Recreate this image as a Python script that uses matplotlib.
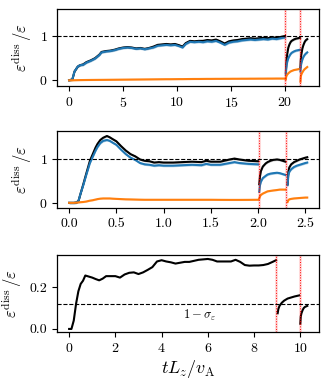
import matplotlib
matplotlib.use("Agg")
import matplotlib.pyplot as plt
import numpy as np

plt.rcParams['font.family'] = 'serif'
plt.rcParams['font.serif'] = ['cmr10']
plt.rcParams['mathtext.fontset'] = 'cm'
plt.rcParams['axes.formatter.use_mathtext'] = True
plt.rcParams['axes.unicode_minus'] = True

C_BLUE = '#1f77b4'
C_ORANGE = '#ff7f0e'

# ---------------- Panel 1 data ----------------
p1_t_a = [0, 0.3, 0.5, 0.8, 1.0, 1.3, 1.6, 2.0, 2.4, 2.8, 3.0, 3.4, 3.8, 4.2, 4.6, 5.0, 5.4, 5.8, 6.2, 6.6,
          7.0, 7.4, 7.8, 8.2, 8.6, 9.0, 9.4, 9.8, 10.2, 10.5, 10.8, 11.2, 11.6, 12.0, 12.4, 12.8, 13.2, 13.6, 14.0, 14.4,
          14.8, 15.2, 15.6, 16.0, 16.4, 16.8, 17.2, 17.6, 18.0, 18.4, 18.8, 19.2, 19.6, 20.0]
p1_blue_a = [0, 0.02, 0.2, 0.31, 0.34, 0.35, 0.40, 0.44, 0.49, 0.57, 0.63, 0.65, 0.66, 0.68, 0.71, 0.73, 0.74, 0.73, 0.71, 0.72,
             0.70, 0.72, 0.74, 0.78, 0.79, 0.80, 0.79, 0.80, 0.77, 0.74, 0.82, 0.87, 0.86, 0.87, 0.86, 0.88, 0.87, 0.89, 0.85, 0.80,
             0.85, 0.87, 0.88, 0.90, 0.91, 0.92, 0.91, 0.92, 0.93, 0.92, 0.94, 0.93, 0.95, 0.97]
p1_black_a = [0, 0.02, 0.2, 0.31, 0.34, 0.36, 0.41, 0.45, 0.50, 0.58, 0.64, 0.66, 0.67, 0.69, 0.72, 0.74, 0.75, 0.74, 0.72, 0.73,
              0.71, 0.73, 0.76, 0.80, 0.81, 0.82, 0.81, 0.82, 0.79, 0.76, 0.84, 0.89, 0.88, 0.89, 0.89, 0.91, 0.90, 0.92, 0.88, 0.83,
              0.88, 0.90, 0.91, 0.93, 0.94, 0.95, 0.94, 0.95, 0.96, 0.95, 0.97, 0.96, 0.98, 1.00]
p1_orange_a = [0, 0.0, 0.002, 0.004, 0.005, 0.006, 0.007, 0.008, 0.009, 0.01, 0.01, 0.011, 0.012, 0.013, 0.014, 0.015, 0.016, 0.017, 0.018, 0.019,
               0.02, 0.021, 0.022, 0.023, 0.024, 0.025, 0.025, 0.026, 0.027, 0.027, 0.028, 0.029, 0.03, 0.03, 0.031, 0.032, 0.032, 0.033, 0.033, 0.034,
               0.034, 0.035, 0.035, 0.036, 0.036, 0.037, 0.037, 0.038, 0.038, 0.039, 0.039, 0.04, 0.04, 0.04]
p1_t_b = [20.07, 20.1, 20.15, 20.2, 20.3, 20.4, 20.5, 20.6, 20.8, 21.0, 21.2, 21.38]
p1_black_b = [0.17, 0.35, 0.5, 0.6, 0.74, 0.81, 0.86, 0.89, 0.92, 0.94, 0.95, 0.96]
p1_blue_b = [0.12, 0.25, 0.35, 0.42, 0.5, 0.55, 0.59, 0.62, 0.65, 0.67, 0.68, 0.69]
p1_orange_b = [0.02, 0.08, 0.11, 0.13, 0.16, 0.18, 0.2, 0.21, 0.23, 0.24, 0.25, 0.26]
p1_t_c = [21.42, 21.45, 21.5, 21.6, 21.7, 21.8, 21.9, 22.05]
p1_black_c = [0.3, 0.45, 0.58, 0.72, 0.8, 0.86, 0.9, 0.93]
p1_blue_c = [0.2, 0.3, 0.38, 0.47, 0.53, 0.57, 0.6, 0.63]
p1_orange_c = [-0.03, 0.08, 0.13, 0.18, 0.22, 0.25, 0.27, 0.3]
p1_restarts = [20.03, 21.4]
p1_ticks = [0, 5, 10, 15, 20]

# ---------------- Panel 2 data ----------------
p2_t_a = [0, 0.05, 0.08, 0.1, 0.12, 0.15, 0.18, 0.2, 0.22, 0.25, 0.28, 0.3, 0.33, 0.36, 0.4, 0.43, 0.46, 0.5, 0.55, 0.6,
          0.65, 0.7, 0.75, 0.8, 0.85, 0.9, 0.95, 1.0, 1.1, 1.2, 1.3, 1.4, 1.45, 1.5, 1.6, 1.7, 1.75, 1.8, 1.9, 2.0]
p2_black_a = [0, 0, 0.01, 0.05, 0.2, 0.42, 0.65, 0.8, 0.95, 1.1, 1.25, 1.33, 1.42, 1.47, 1.51, 1.48, 1.44, 1.39, 1.28, 1.18,
              1.1, 1.05, 0.98, 0.95, 0.94, 0.91, 0.92, 0.91, 0.91, 0.92, 0.93, 0.92, 0.95, 0.93, 0.93, 0.98, 1.0, 0.98, 0.95, 0.94]
p2_blue_a = [0, 0, 0.01, 0.05, 0.2, 0.4, 0.62, 0.76, 0.9, 1.04, 1.18, 1.26, 1.35, 1.40, 1.42, 1.40, 1.36, 1.31, 1.2, 1.1,
             1.02, 0.97, 0.9, 0.87, 0.86, 0.84, 0.85, 0.84, 0.84, 0.85, 0.86, 0.85, 0.88, 0.86, 0.86, 0.9, 0.92, 0.9, 0.88, 0.87]
p2_orange_a = [0, 0, 0.005, 0.01, 0.015, 0.02, 0.03, 0.04, 0.05, 0.06, 0.075, 0.085, 0.095, 0.1, 0.1, 0.1, 0.095, 0.09, 0.085, 0.08,
               0.078, 0.075, 0.072, 0.07, 0.07, 0.07, 0.07, 0.07, 0.07, 0.07, 0.07, 0.07, 0.07, 0.07, 0.068, 0.067, 0.067, 0.067, 0.068, 0.07]
p2_t_b = [2.012, 2.02, 2.03, 2.05, 2.08, 2.1, 2.13, 2.16, 2.2, 2.23, 2.26, 2.29]
p2_black_b = [0.42, 0.6, 0.72, 0.82, 0.89, 0.92, 0.95, 0.97, 0.98, 0.97, 0.95, 0.93]
p2_blue_b = [0.25, 0.4, 0.48, 0.56, 0.61, 0.64, 0.66, 0.67, 0.68, 0.67, 0.65, 0.63]
p2_orange_b = [0.1, 0.15, 0.18, 0.21, 0.24, 0.26, 0.27, 0.28, 0.29, 0.3, 0.3, 0.3]
p2_t_c = [2.312, 2.32, 2.33, 2.35, 2.38, 2.41, 2.44, 2.47, 2.5, 2.52]
p2_black_c = [0.42, 0.7, 0.8, 0.87, 0.92, 0.95, 0.98, 1.0, 1.02, 1.03]
p2_blue_c = [0.4, 0.62, 0.7, 0.76, 0.81, 0.84, 0.86, 0.88, 0.9, 0.91]
p2_orange_c = [0.02, 0.06, 0.08, 0.09, 0.1, 0.105, 0.11, 0.115, 0.12, 0.12]
p2_restarts = [2.005, 2.3]
p2_ticks = [0.0, 0.5, 1.0, 1.5, 2.0, 2.5]

# ---------------- Panel 3 data ----------------
p3_t_a = [0, 0.1, 0.2, 0.3, 0.4, 0.5, 0.6, 0.7, 0.85, 1.0, 1.15, 1.3, 1.45, 1.6,
          1.8, 2.0, 2.2, 2.4, 2.6, 2.8, 3.0, 3.2, 3.4, 3.6, 3.8, 4.0, 4.2, 4.4, 4.6, 4.8, 5.0, 5.2, 5.4, 5.6, 5.8, 6.0,
          6.2, 6.4, 6.6, 6.8, 7.0, 7.2, 7.4, 7.6, 7.8, 8.0, 8.2, 8.4, 8.6, 8.8, 8.95]
p3_black_a = [0, 0.0, 0.04, 0.12, 0.18, 0.215, 0.23, 0.255, 0.25, 0.245, 0.238, 0.232, 0.24, 0.252,
              0.252, 0.252, 0.245, 0.26, 0.268, 0.27, 0.262, 0.27, 0.282, 0.295, 0.322, 0.328, 0.322, 0.318, 0.312, 0.316, 0.32, 0.32, 0.325, 0.33, 0.332, 0.334,
              0.33, 0.322, 0.322, 0.322, 0.322, 0.33, 0.32, 0.305, 0.302, 0.303, 0.303, 0.305, 0.31, 0.32, 0.328]
p3_t_b = [9.02, 9.05, 9.1, 9.2, 9.3, 9.45, 9.6, 9.75, 9.95]
p3_black_b = [0.075, 0.095, 0.11, 0.125, 0.135, 0.145, 0.15, 0.155, 0.16]
p3_t_c = [10.0, 10.02, 10.05, 10.1, 10.15, 10.2, 10.3]
p3_black_c = [0.025, 0.06, 0.075, 0.09, 0.1, 0.105, 0.11]
p3_restarts = [8.97, 9.98]
p3_ref = 0.12
p3_ticks = [0, 2, 4, 6, 8, 10]

fig = plt.figure(figsize=(3.27, 3.83), dpi=100)
L, W, H = 0.175, 0.801, 0.201
ax1 = fig.add_axes([L, 0.776, W, H])
ax2 = fig.add_axes([L, 0.456, W, H], sharey=ax1)
ax3 = fig.add_axes([L, 0.132, W, H])

LW = 1.5
BAND = 0.025


def draw_seg(ax, t, blk, blu, ora, band=True):
    t = np.asarray(t)
    if blk is not None:
        if band:
            ax.fill_between(t, np.asarray(blk) - BAND, np.asarray(blk) + BAND, color='k', alpha=0.2, lw=0)
        ax.plot(t, blk, color='k', lw=LW)
    if blu is not None:
        if band:
            ax.fill_between(t, np.asarray(blu) - BAND, np.asarray(blu) + BAND, color=C_BLUE, alpha=0.35, lw=0)
        ax.plot(t, blu, color=C_BLUE, lw=LW)
    if ora is not None:
        if band:
            ax.fill_between(t, np.asarray(ora) - BAND * 0.6, np.asarray(ora) + BAND * 0.6, color=C_ORANGE, alpha=0.3, lw=0)
        ax.plot(t, ora, color=C_ORANGE, lw=LW)


draw_seg(ax1, p1_t_a, p1_black_a, p1_blue_a, p1_orange_a)
draw_seg(ax1, p1_t_b, p1_black_b, p1_blue_b, p1_orange_b)
draw_seg(ax1, p1_t_c, p1_black_c, p1_blue_c, p1_orange_c)

draw_seg(ax2, p2_t_a, p2_black_a, p2_blue_a, p2_orange_a)
draw_seg(ax2, p2_t_b, p2_black_b, p2_blue_b, p2_orange_b)
draw_seg(ax2, p2_t_c, p2_black_c, p2_blue_c, p2_orange_c)

draw_seg(ax3, p3_t_a, p3_black_a, None, None, band=False)
draw_seg(ax3, p3_t_b, p3_black_b, None, None, band=False)
draw_seg(ax3, p3_t_c, p3_black_c, None, None, band=False)

for ax, rs in [(ax1, p1_restarts), (ax2, p2_restarts), (ax3, p3_restarts)]:
    for r in rs:
        ax.axvline(r, color='red', alpha=0.15, lw=2.2)
        ax.axvline(r, color='red', ls=':', lw=0.7)

ax1.axhline(1, color='k', ls='--', lw=0.8)
ax2.axhline(1, color='k', ls='--', lw=0.8)
ax3.axhline(p3_ref, color='k', ls='--', lw=0.8)
ax3.text(5.65, 0.066, r'$1-\sigma_\varepsilon$', ha='center', va='center', fontsize=9)

ax1.set_xticks(p1_ticks)
ax2.set_xticks(p2_ticks)
ax3.set_xticks(p3_ticks)
ax1.set_yticks([0, 1])
ax3.set_yticks([0.0, 0.2])
ax2.xaxis.set_major_formatter(matplotlib.ticker.FormatStrFormatter('%.1f'))
ax3.yaxis.set_major_formatter(matplotlib.ticker.FormatStrFormatter('%.1f'))

for ax in (ax1, ax2, ax3):
    ax.set_ylabel(r'$\varepsilon^{\rm diss}\,/\varepsilon$', fontsize=12, labelpad=4)
    ax.tick_params(labelsize=10, length=3.5, width=0.8)
    for s in ax.spines.values():
        s.set_linewidth(0.9)

ax3.set_xlabel(r'$tL_z/v_{\rm A}$', fontsize=13, labelpad=2)

fig.savefig('out.png', dpi=100)
